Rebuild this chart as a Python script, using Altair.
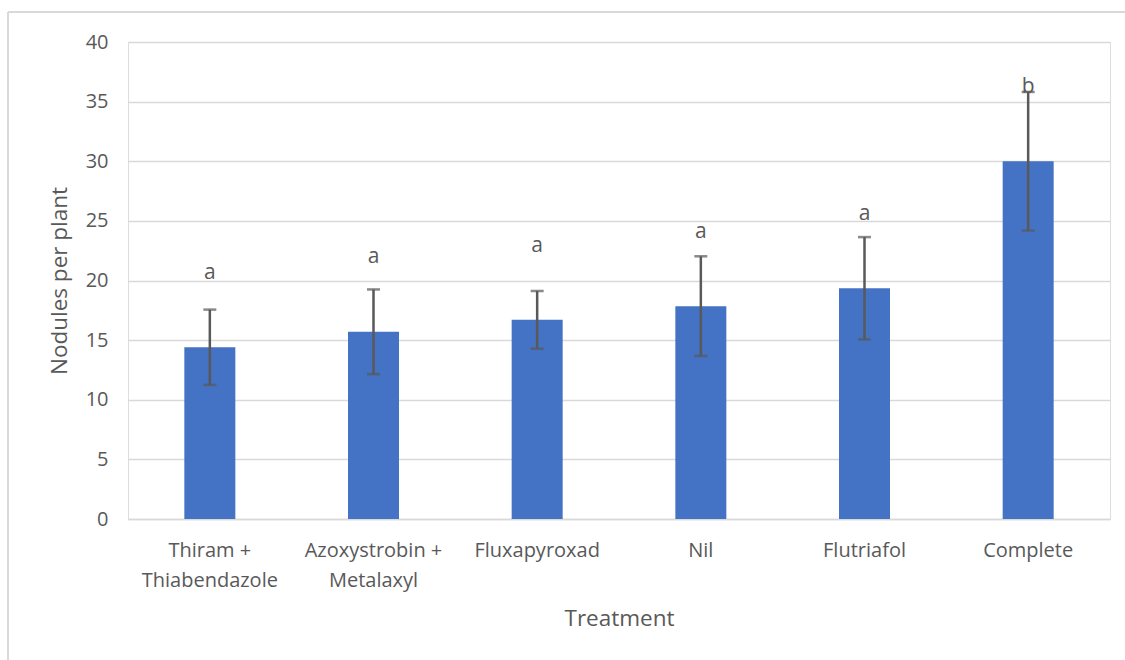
import altair as alt
import pandas as pd

# Nodulation by seed treatment: mean nodules per plant with standard error
treatments = [
    "Thiram + Thiabendazole",
    "Azoxystrobin + Metalaxyl",
    "Fluxapyroxad",
    "Nil",
    "Flutriafol",
    "Complete",
]
label_lines = [
    ["Thiram +", "Thiabendazole"],
    ["Azoxystrobin +", "Metalaxyl"],
    ["Fluxapyroxad"],
    ["Nil"],
    ["Flutriafol"],
    ["Complete"],
]
means = [14.4, 15.7, 16.7, 17.85, 19.35, 30.0]
errors = [3.16, 3.55, 2.42, 4.18, 4.29, 5.81]
letters = ["a", "a", "a", "a", "a", "b"]
letter_pos = [20.6, 22.0, 22.9, 24.1, 25.6, 36.2]

df = pd.DataFrame({
    "treatment": treatments,
    "mean": means,
    "lo": [m - e for m, e in zip(means, errors)],
    "hi": [m + e for m, e in zip(means, errors)],
    "letter": letters,
    "letter_y": letter_pos,
})

FONT = "Open Sans"
GREY = "#595959"
W, H = 982, 477

label_map = "{" + ",".join(
    "'" + t + "': [" + ",".join("'" + s + "'" for s in lines) + "]"
    for t, lines in zip(treatments, label_lines)
) + "}"

x = alt.X(
    "treatment:N",
    sort=treatments,
    scale=alt.Scale(paddingInner=0.69, paddingOuter=0.345),
    axis=alt.Axis(
        title="Treatment",
        labelAngle=0,
        labelExpr=label_map + "[datum.label]",
        labelFont=FONT,
        labelFontSize=20,
        labelColor=GREY,
        labelLineHeight=30,
        labelBaseline="middle",
        labelPadding=31,
        ticks=False,
        domainColor="#d9d9d9",
        domainWidth=1.5,
        grid=False,
        titleFont=FONT,
        titleFontSize=22.5,
        titleFontWeight="normal",
        titleColor=GREY,
        titleBaseline="middle",
        titleY=99,
    ),
)

y_scale = alt.Scale(domain=[0, 40], nice=False)
y = alt.Y(
    "mean:Q",
    scale=y_scale,
    axis=alt.Axis(
        title="Nodules per plant",
        values=list(range(0, 45, 5)),
        labelFont=FONT,
        labelFontSize=20,
        labelColor=GREY,
        labelPadding=20,
        ticks=False,
        domain=False,
        gridColor="#d9d9d9",
        gridWidth=1.5,
        titleFont=FONT,
        titleFontSize=22.5,
        titleFontWeight="normal",
        titleColor=GREY,
        titleAngle=-90,
        titleAlign="center",
        titleBaseline="middle",
        titleX=-69,
        titleY=H / 2,
    ),
)

base = alt.Chart(df)

bars = base.mark_bar(color="#4472C4", size=51).encode(x=x, y=y)

whisker = base.mark_rule(color=GREY, strokeWidth=2.5).encode(
    x=alt.X("treatment:N", sort=treatments),
    y=alt.Y("lo:Q", scale=y_scale),
    y2="hi:Q",
)
cap_lo = base.mark_tick(color=GREY, size=13, thickness=2.5, orient="horizontal").encode(
    x=alt.X("treatment:N", sort=treatments),
    y=alt.Y("lo:Q", scale=y_scale),
)
cap_hi = base.mark_tick(color=GREY, size=13, thickness=2.5, orient="horizontal").encode(
    x=alt.X("treatment:N", sort=treatments),
    y=alt.Y("hi:Q", scale=y_scale),
)

letters_layer = base.mark_text(
    font=FONT, fontSize=21, color=GREY, baseline="middle", align="center"
).encode(
    x=alt.X("treatment:N", sort=treatments),
    y=alt.Y("letter_y:Q", scale=y_scale),
    text="letter:N",
)

# light chart-area frame along the top and left edges
frame_top = alt.Chart(df).mark_rule(color="#d9d9d9", strokeWidth=2).encode(
    x=alt.value(-120), x2=alt.value(W + 20), y=alt.value(-30)
)
frame_left = alt.Chart(df).mark_rule(color="#d9d9d9", strokeWidth=2).encode(
    x=alt.value(-120), y=alt.value(-30), y2=alt.value(H + 141)
)

chart = alt.layer(
    bars, whisker, cap_lo, cap_hi, letters_layer, frame_top, frame_left
).properties(
    width=W,
    height=H,
    autosize=alt.AutoSizeParams(type="none"),
    padding={"left": 128, "top": 42, "right": 15, "bottom": 141},
).configure_view(stroke=None).configure(background="white")

chart.save("out.html", embed_options={"renderer": "svg", "actions": False})
